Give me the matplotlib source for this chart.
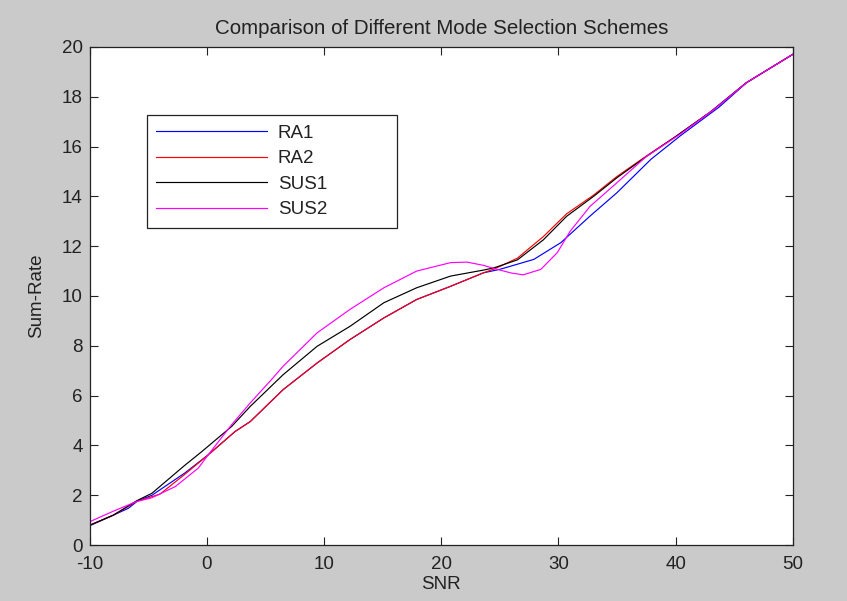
import matplotlib.pyplot as plt

plt.rcParams['font.family'] = ['Liberation Sans', 'DejaVu Sans']
plt.rcParams['axes.unicode_minus'] = False

# SNR sample points and sum-rate per scheme
snr_ra1 = [-10, -8, -6.7, -5.9, -4.7, -1.9, 0.1, 2.4, 3.7, 6.5, 9.4, 12.2, 15.1, 17.9, 20.8,
           23.6, 25.0, 27.9, 30.2, 32.7, 35.0, 37.9, 40.4, 43.7, 46.1, 50]
rate_ra1 = [0.78, 1.2, 1.48, 1.78, 2.0, 2.89, 3.62, 4.56, 4.96, 6.24, 7.31, 8.25, 9.12, 9.86, 10.39,
            10.93, 11.07, 11.47, 12.14, 13.21, 14.15, 15.49, 16.43, 17.58, 18.58, 19.7]

snr_ra2 = [-10, -8, -6, -5, -4, -2, 0.1, 2.4, 3.7, 6.5, 9.4, 12.2, 15.1, 17.9, 20.8,
           23.6, 24.6, 26.5, 28.7, 30.7, 33.0, 35.0, 37.6, 40.0, 43.0, 46.0, 50]
rate_ra2 = [0.8, 1.2, 1.75, 1.9, 2.05, 2.8, 3.62, 4.56, 4.96, 6.24, 7.31, 8.25, 9.12, 9.86, 10.39,
            10.93, 11.1, 11.52, 12.38, 13.3, 14.05, 14.8, 15.65, 16.4, 17.4, 18.55, 19.7]

snr_sus1 = [-10, -8, -6, -4.7, -1.9, -0.45, 2.1, 3.7, 6.5, 9.4, 12.2, 15.1, 17.9, 20.8,
            23.6, 24.5, 26.5, 28.7, 30.7, 33.0, 35.0, 37.6, 40.0, 43.0, 46.0, 50]
rate_sus1 = [0.8, 1.2, 1.78, 2.08, 3.2, 3.75, 4.76, 5.57, 6.84, 7.98, 8.78, 9.73, 10.33, 10.8,
             11.04, 11.13, 11.45, 12.25, 13.2, 14.0, 14.75, 15.63, 16.4, 17.4, 18.55, 19.7]

snr_sus2 = [-10, -8, -6, -4.7, -2.7, -0.74, 0.1, 2.1, 3.7, 5.5, 6.5, 9.4, 12.2, 15.1, 17.9,
            20.8, 22.2, 23.6, 24.6, 26.0, 27.0, 28.5, 29.9, 31.0, 32.7, 35.0, 37.5, 40.4,
            43.3, 46.1, 50]
rate_sus2 = [0.94, 1.36, 1.75, 1.9, 2.35, 3.09, 3.62, 4.83, 5.71, 6.64, 7.18, 8.52, 9.46, 10.33,
             11.0, 11.34, 11.36, 11.23, 11.09, 10.92, 10.85, 11.07, 11.74, 12.6, 13.6, 14.55,
             15.6, 16.5, 17.5, 18.58, 19.7]

fig = plt.figure(figsize=(8.47, 6.01), dpi=100, facecolor='#cacaca')
ax = fig.add_axes([0.106, 0.093, 0.830, 0.829])

ax.plot(snr_ra1, rate_ra1, color='#0000ff', lw=0.85, label='RA1')
ax.plot(snr_ra2, rate_ra2, color='#ff0000', lw=0.85, label='RA2')
ax.plot(snr_sus1, rate_sus1, color='#000000', lw=0.85, label='SUS1')
ax.plot(snr_sus2, rate_sus2, color='#ff00ff', lw=0.85, label='SUS2')

ax.set_xlim(-10, 50)
ax.set_ylim(0, 20)
ax.set_xticks(range(-10, 51, 10))
ax.set_yticks(range(0, 21, 2))
ax.tick_params(direction='in', top=True, right=True, length=6, labelsize=13.5,
               colors='#222222', pad=5)
ax.tick_params(axis='x', pad=8)
for s in ax.spines.values():
    s.set_linewidth(0.9)
    s.set_color('#222222')

ax.set_title('Comparison of Different Mode Selection Schemes', fontsize=14.8, pad=9, color='#222222')
ax.set_xlabel('SNR', fontsize=13.5, labelpad=2, color='#222222')
ax.set_ylabel('Sum-Rate', fontsize=13.5, labelpad=12, color='#222222')

# legend box stretched to a fixed width inside the axes
leg = ax.legend(loc='upper left', bbox_to_anchor=(0.081, 0.637, 0.356, 0.226), mode='expand',
                borderaxespad=0, fontsize=13.5, fancybox=False, framealpha=1,
                edgecolor='#222222', handlelength=5.9, handletextpad=0.6,
                labelspacing=0.45, borderpad=0.5)
leg.get_frame().set_linewidth(0.9)
for t in leg.get_texts():
    t.set_color('#222222')

fig.savefig('out.png', dpi=100, facecolor=fig.get_facecolor())
